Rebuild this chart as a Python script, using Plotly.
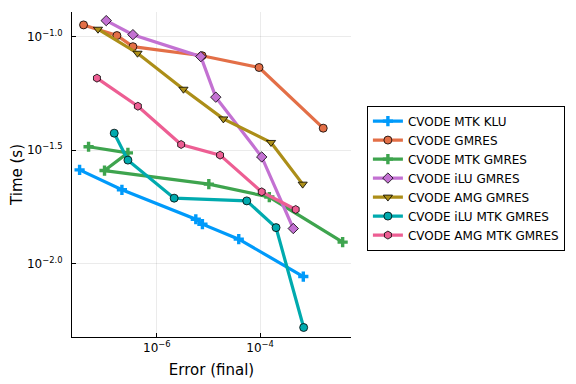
import plotly.graph_objects as go

names = ["CVODE MTK KLU", "CVODE GMRES", "CVODE MTK GMRES", "CVODE iLU GMRES",
         "CVODE AMG GMRES", "CVODE iLU MTK GMRES", "CVODE AMG MTK GMRES"]
colors = ["#009AFA", "#E36F47", "#3EA44E", "#C371D2", "#AC8E18", "#00AAAE", "#ED5E93"]
symbols = ["cross", "circle", "cross", "diamond", "triangle-down", "circle", "hexagon"]

# log10 values
err_log = [
    [-7.497, -6.677, -5.246, -5.118, -4.414, -3.164],
    [-7.42, -6.774, -6.464, -5.124, -4.021, -2.778],
    [-7.323, -6.561, -7.014, -4.994, -3.822, -2.402],
    [-6.981, -6.464, -5.149, -4.859, -3.969, -3.358],
    [-7.141, -6.375, -5.485, -4.712, -3.789, -3.176],
    [-6.826, -6.561, -5.665, -4.259, -3.692, -3.157],
    [-7.161, -6.368, -5.530, -4.776, -3.969, -3.311],
]
time_log = [
    [-1.587, -1.675, -1.805, -1.827, -1.893, -2.058],
    [-0.947, -0.994, -1.043, -1.083, -1.135, -1.403],
    [-1.485, -1.512, -1.590, -1.650, -1.707, -1.906],
    [-0.928, -0.990, -1.087, -1.266, -1.530, -1.846],
    [-0.966, -1.072, -1.231, -1.362, -1.466, -1.650],
    [-1.425, -1.544, -1.712, -1.724, -1.842, -2.283],
    [-1.182, -1.306, -1.475, -1.522, -1.684, -1.762],
]

xtick_vals = [1e-6, 1e-4]
xtick_text = ["10<sup>−6</sup>", "10<sup>−4</sup>"]
ytick_vals = [10 ** -1.0, 10 ** -1.5, 10 ** -2.0]
ytick_text = ["10<sup>−1.0</sup>", "10<sup>−1.5</sup>", "10<sup>−2.0</sup>"]

fig = go.Figure()
for n, c, s, ex, ty in zip(names, colors, symbols, err_log, time_log):
    is_cross = s == "cross"
    fig.add_trace(go.Scatter(
        x=[10 ** v for v in ex], y=[10 ** v for v in ty], name=n,
        mode="lines+markers",
        line=dict(color=c, width=3.2),
        marker=dict(symbol=s, color=c, size=8.5 if is_cross else 8,
                    line=dict(color=c if is_cross else "black", width=0 if is_cross else 0.8)),
    ))

font = "DejaVu Sans"
fig.update_layout(
    width=568, height=376,
    margin=dict(l=64, r=225, t=4, b=47),
    paper_bgcolor="white", plot_bgcolor="white",
    font=dict(family=font, size=11, color="black"),
    legend=dict(x=1.057, y=0.489, xanchor="left", yanchor="middle",
                bordercolor="black", borderwidth=1, font=dict(size=12),
                tracegroupgap=0, itemwidth=30),
    xaxis=dict(type="log", range=[-7.644, -2.24], tickvals=xtick_vals, ticktext=xtick_text,
               showgrid=True, gridcolor="rgba(0,0,0,0.08)", gridwidth=0.5,
               showline=True, linecolor="black", linewidth=1,
               ticks="inside", ticklen=4, tickcolor="black", zeroline=False,
               tickfont=dict(size=12),
               title=dict(text="Error (final)", font=dict(size=15), standoff=10)),
    yaxis=dict(type="log", range=[-2.325, -0.890], tickvals=ytick_vals, ticktext=ytick_text,
               showgrid=True, gridcolor="rgba(0,0,0,0.08)", gridwidth=0.5,
               showline=True, linecolor="black", linewidth=1,
               ticks="inside", ticklen=4, tickcolor="black", zeroline=False,
               tickfont=dict(size=12), ticklabelstandoff=6,
               title=dict(text="Time (s)", font=dict(size=15), standoff=2)),
)
fig.write_html("out.html")
